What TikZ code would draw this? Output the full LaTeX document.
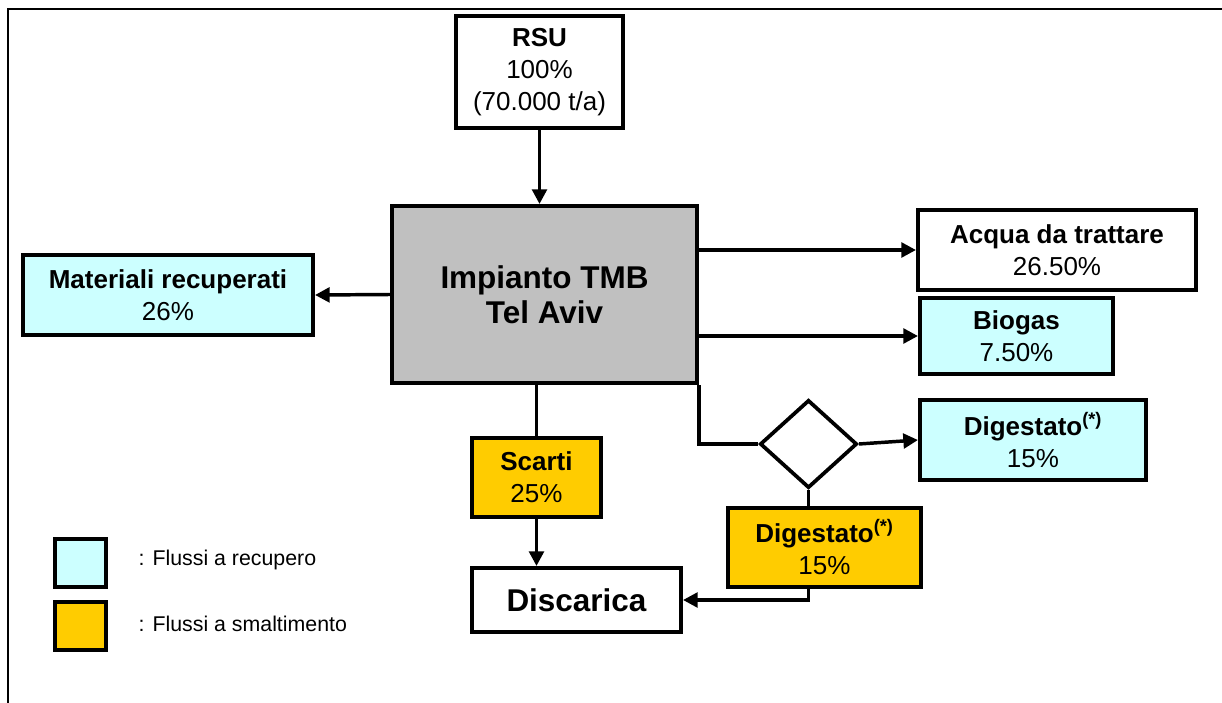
\documentclass[tikz,border=0pt]{standalone}
\usepackage{fontspec}
\setmainfont{Liberation Sans}
\usetikzlibrary{arrows.meta,shapes.geometric}
\definecolor{recup}{HTML}{CCFFFF}
\definecolor{smalt}{HTML}{FFCC00}
\definecolor{impianto}{HTML}{C0C0C0}
\begin{document}
\begin{tikzpicture}[x=0.75pt,y=-0.75pt,line join=miter,>={Triangle[length=11pt,width=11pt]}]
	\tikzset{box/.style={draw,line width=3pt,align=center,inner sep=0pt,font=\fontsize{19.5}{24}\selectfont},
		arr/.style={line width=2.6pt,->},
		lin/.style={line width=2.6pt}}
	\useasboundingbox (0,0) rectangle (1222,703);
	\draw[line width=2pt] (8,703)--(8,9)--(1222,9);
	% nodi
	\node[box,minimum width=125.25pt,minimum height=84pt] (rsu) at (539.5,72) {\textbf{RSU}\\100\%\\(70.000 t/a)};
	\node[box,fill=impianto,minimum width=228.75pt,minimum height=132.75pt,font=\fontsize{23.6}{26}\selectfont\bfseries] (main) at (544.5,294.5) {Impianto TMB\\Tel Aviv};
	\node[box,fill=recup,minimum width=217.5pt,minimum height=60pt] (mat) at (168,295) {\textbf{Materiali recuperati}\\26\%};
	\node[box,minimum width=208.5pt,minimum height=60pt] (acqua) at (1057,250) {\textbf{Acqua da trattare}\\26.50\%};
	\node[box,fill=recup,minimum width=144.75pt,minimum height=57pt] (biogas) at (1016.5,336) {\textbf{Biogas}\\7.50\%};
	\node[draw,diamond,line width=2.8pt,inner sep=0pt,minimum width=72.75pt,minimum height=66pt] (dia) at (808.5,444) {};
	\node[box,fill=recup,minimum width=169.5pt,minimum height=60pt] (digr) at (1033,440) {\textbf{Digestato\textsuperscript{(*)}}\\15\%};
	\node[box,fill=smalt,minimum width=144.75pt,minimum height=59.25pt] (digd) at (824.5,547.5) {\textbf{Digestato\textsuperscript{(*)}}\\15\%};
	\node[box,fill=smalt,minimum width=96.75pt,minimum height=59.25pt] (scarti) at (536.5,477.5) {\textbf{Scarti}\\25\%};
	\node[box,minimum width=156.75pt,minimum height=48pt,font=\fontsize{23.6}{26}\selectfont\bfseries] (disc) at (576.5,600) {Discarica};
	% legenda
	\node[box,fill=recup,minimum width=38.25pt,minimum height=36pt] (legr) at (80.5,563) {};
	\node[box,fill=smalt,minimum width=38.25pt,minimum height=36pt] (legs) at (80.5,625.5) {};
	\node[anchor=west,font=\fontsize{16}{19}\selectfont] (legrt) at (134,560) {: Flussi a recupero};
	\node[anchor=west,font=\fontsize{16}{19}\selectfont] (legst) at (134,624) {: Flussi a smaltimento};
	% collegamenti
	\draw[arr] (rsu.south)--(rsu.south |- main.north);
	\draw[arr] (main.west)--(mat.east);
	\draw[arr] (main.east |- acqua.west)--(acqua.west);
	\draw[arr] (main.east |- biogas.west)--(biogas.west);
	\draw[lin] (main.south east)--(main.south east |- dia.west)--(dia.west);
	\draw[arr] (dia.east)--(digr.west);
	\draw[lin] (dia.south)--(dia.south |- digd.north);
	\draw[lin] (scarti.north |- main.south)--(scarti.north);
	\draw[arr] (scarti.south)--(scarti.south |- disc.north);
	\draw[arr] (dia.south |- digd.south)|-(disc.east);
\end{tikzpicture}
\end{document}
